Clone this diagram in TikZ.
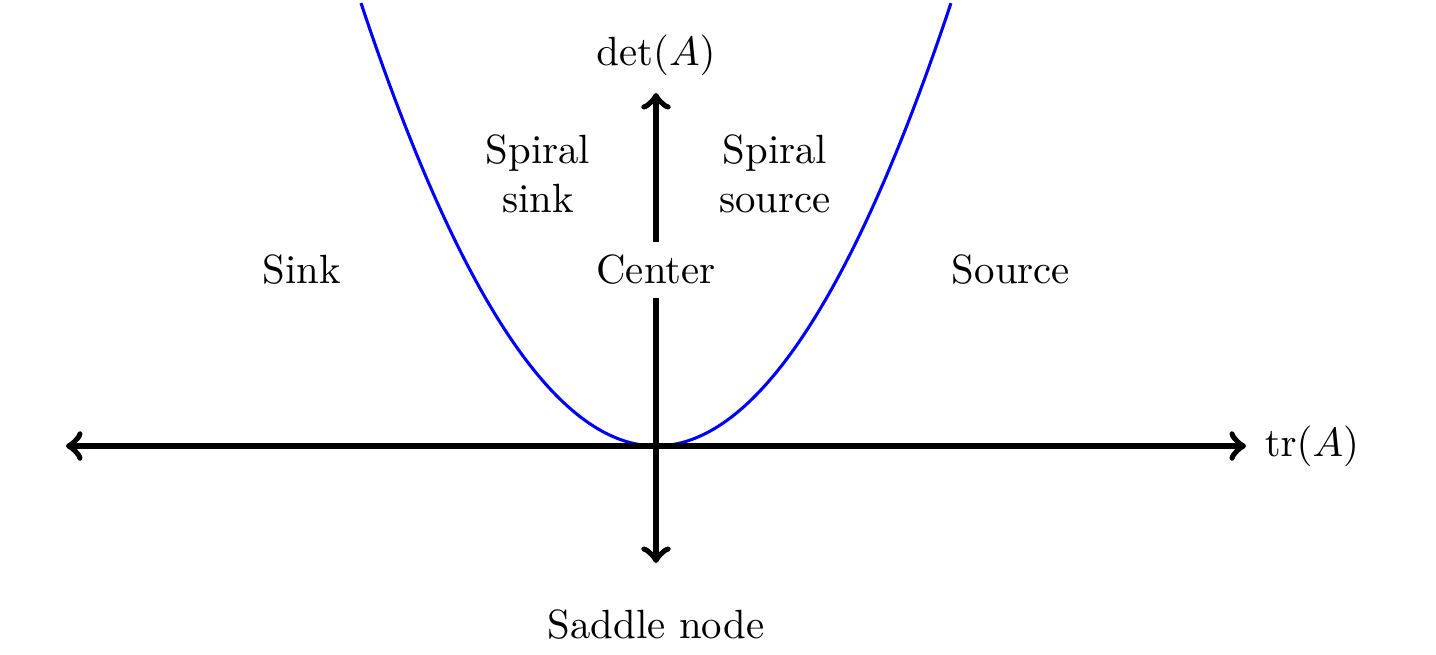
\documentclass[tikz,border=0pt]{standalone}
\begin{document}
\begin{tikzpicture}[x=0.245pt,y=0.245pt,
  axis/.style={line width=1.55pt,<->,line cap=round},
  curve/.style={blue,line width=0.75pt},
  lab/.style={font=\normalsize}]
\useasboundingbox (-656,-208) rectangle (780,446);
\coordinate (O) at (0,0);
\coordinate (L) at (-590,0);
\coordinate (R) at (590,0);
\coordinate (T) at (0,353);
\coordinate (B) at (0,-117);
\draw[curve] plot[domain=-2.95:2.95,samples=120,smooth] ({100*\x},{50.9*\x*\x});
\draw[axis] (L) -- (R);
\draw[axis] (B) -- (T);
\node[lab] (det) at (0,391) {$\det(A)$};
\node[lab] (tr) at (656,0) {$\mathrm{tr}(A)$};
\node[lab] (sink) at (-354,176) {Sink};
\node[lab,fill=white] (center) at (0,176) {Center};
\node[lab] (source) at (355,176) {Source};
\node[lab,align=center] (ssink) at (-118,272) {Spiral\\sink};
\node[lab,align=center] (ssource) at (119,272) {Spiral\\source};
\node[lab] (saddle) at (0,-179) {Saddle node};
\end{tikzpicture}
\end{document}
